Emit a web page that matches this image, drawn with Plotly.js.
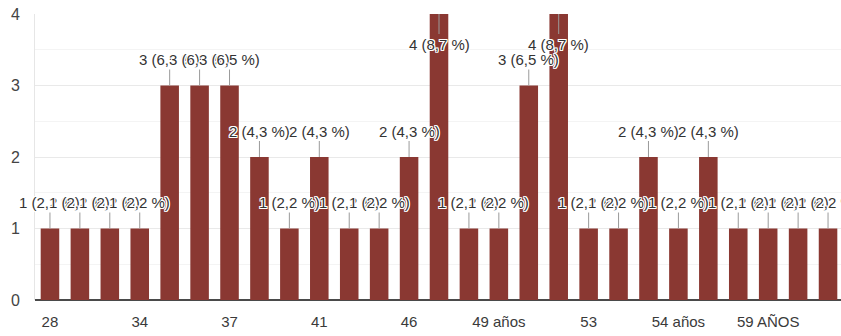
<!DOCTYPE html>
<html>
<head>
<meta charset="utf-8">
<script src="https://cdn.plot.ly/plotly-3.0.1.min.js"></script>
<style>
  html, body { margin: 0; padding: 0; overflow: hidden; background: #fff; }
  #chart { width: 845px; height: 336px; }
</style>
</head>
<body>
<div id="chart"></div>
<script>
// Age answers (one bar per distinct answer) and how many people gave each
const categories = ['28', '30', '33', '34', '35', '36', '37', '38', '39', '41', '43', '44', '46', '47', '48',
  '49 años', '50', '52', '53', '53 años', '54', '54 años', '55', '57', '59 AÑOS', '60', '62'];
const counts = [1, 1, 1, 1, 3, 3, 3, 2, 1, 2, 1, 1, 2, 4, 1, 1, 3, 4, 1, 1, 2, 1, 2, 1, 1, 1, 1];
const shownTicks = ['28', '34', '37', '41', '46', '49 años', '53', '54 años', '59 AÑOS'];
const yTicks = [0, 1, 2, 3, 4];

const FONT = 'Liberation Sans, Arial, sans-serif';
const BAR_COLOR = '#8a3832';
const yMax = Math.max(...yTicks);
const total = counts.reduce((a, b) => a + b, 0);

// Bars sit at slot positions 0..n-1; the axis writes the answer text under some of them
const slots = categories.map((_, i) => i);
const tickSlots = shownTicks.map(t => categories.indexOf(t));

// Value labels: "n (p %)" with a decimal comma, joined to the bar by a thin stem
const halo = ['-1px -1px 0 #fff', '1px -1px 0 #fff', '-1px 1px 0 #fff', '1px 1px 0 #fff',
  '0 1px 0 #fff', '0 -1px 0 #fff', '1px 0 0 #fff', '-1px 0 0 #fff'].join(', ');

const annotations = counts.map((v, i) => {
  const pct = (v / total * 100).toFixed(1).replace('.', ',');
  return {
    x: slots[i],
    y: v,
    xref: 'x',
    yref: 'y',
    text: v + ' (' + pct + ' %)',
    showarrow: true,
    arrowhead: 0,
    arrowwidth: 1,
    arrowcolor: '#9a9a9a',
    ax: 0,
    ay: v >= yMax ? 30 : -26,
    font: { family: FONT, size: 15, color: '#333', shadow: halo }
  };
});

const trace = {
  type: 'bar',
  x: slots,
  y: counts,
  text: categories,
  textposition: 'none',
  marker: { color: BAR_COLOR },
  hoverinfo: 'skip'
};

const layout = {
  width: 845,
  height: 336,
  margin: { l: 35, r: 2, t: 14, b: 36 },
  paper_bgcolor: '#fff',
  plot_bgcolor: '#fff',
  bargap: 0.38,
  showlegend: false,
  font: { family: FONT, size: 15, color: '#444' },
  xaxis: {
    type: 'linear',
    range: [-0.5, categories.length - 0.5],
    tickmode: 'array',
    tickvals: tickSlots,
    ticktext: shownTicks,
    tickangle: 0,
    showgrid: false,
    zeroline: false,
    showline: false,
    ticks: '',
    ticklabelstandoff: 11,
    tickfont: { family: FONT, size: 15, color: '#3a3a3a' },
    fixedrange: true
  },
  yaxis: {
    range: [0, yMax],
    tickmode: 'array',
    tickvals: yTicks,
    ticktext: yTicks.map(String),
    showgrid: true,
    gridcolor: '#e9e9e9',
    gridwidth: 1,
    minor: { dtick: 0.5, showgrid: true, gridcolor: '#f4f4f4', gridwidth: 1 },
    zeroline: true,
    zerolinecolor: '#4a4a4a',
    zerolinewidth: 1.5,
    showline: true,
    linecolor: '#e6e6e6',
    linewidth: 1,
    ticks: '',
    ticklabelstandoff: 11,
    tickfont: { family: FONT, size: 16, color: '#444' },
    fixedrange: true
  },
  annotations: annotations
};

Plotly.newPlot('chart', [trace], layout, { staticPlot: true, displayModeBar: false });
</script>
</body>
</html>
